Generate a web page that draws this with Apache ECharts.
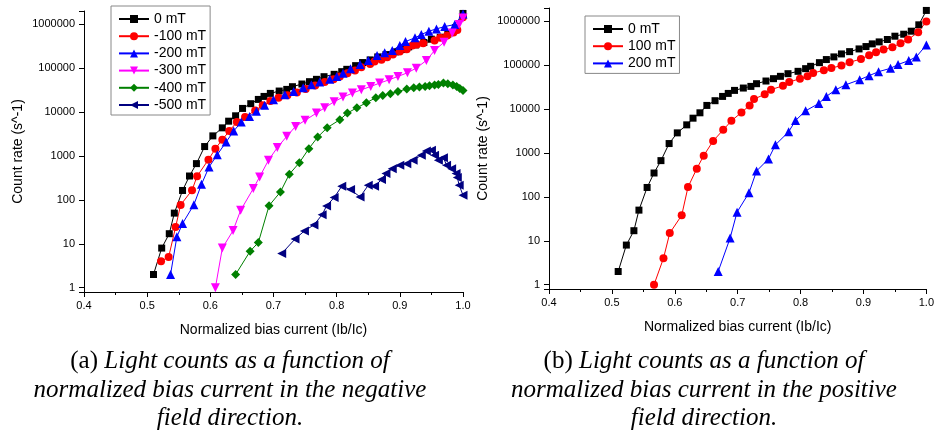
<!DOCTYPE html>
<html>
<head>
<meta charset="utf-8">
<script src="https://cdn.jsdelivr.net/npm/echarts@6/dist/echarts.min.js"></script>
<style>
html,body{margin:0;padding:0;background:#fff;}
#c{width:937px;height:440px;}
</style>
</head>
<body>
<div id="c"></div>
<script>
// ---- data ----
const xTickLabels = ['0.4','0.5','0.6','0.7','0.8','0.9','1.0'];
const yTickLabels = ['1','10','100','1000','10000','100000','1000000'];

const bias_0mT = [0.510,0.523,0.535,0.543,0.556,0.567,0.578,0.591,0.604,0.619,0.629,0.640,0.651,0.664,0.676,0.685,0.695,0.709,0.721,0.730,0.745,0.757,0.768,0.780,0.796,0.808,0.816,0.830,0.841,0.853,0.865,0.878,0.893,0.904,0.914,0.925,0.938,0.950,0.964,0.976,0.988,1.000];
const rate_0mT = [2,8,17,50,164,350,670,1640,2870,4370,6200,8220,12100,15500,19400,22700,26600,30100,32800,37800,43500,49200,55600,63900,72300,83200,94000,114000,134000,154000,180000,203000,234000,265000,305000,338000,383000,456000,506000,593000,828000,1760000];

const bias_m100 = [0.522,0.534,0.545,0.553,0.571,0.579,0.597,0.608,0.619,0.630,0.642,0.655,0.671,0.683,0.695,0.708,0.722,0.737,0.751,0.766,0.781,0.795,0.805,0.817,0.829,0.839,0.853,0.860,0.871,0.880,0.889,0.900,0.911,0.920,0.927,0.937,0.955,0.964,0.975,0.985,0.991,1.000];
const rate_m100 = [4,5,24,77,166,345,826,1470,2350,3700,5930,7700,10900,14200,17800,21200,24300,28000,33300,40400,48100,56200,64700,77000,88500,105000,125000,142000,155000,178000,205000,239000,270000,327000,345000,370000,425000,489000,552000,647000,743000,1440000];

const bias_m200 = [0.537,0.547,0.556,0.574,0.586,0.598,0.611,0.625,0.637,0.649,0.662,0.673,0.686,0.700,0.718,0.732,0.747,0.760,0.773,0.789,0.800,0.810,0.822,0.837,0.850,0.864,0.876,0.888,0.900,0.909,0.924,0.934,0.946,0.958,0.971,0.987,1.000];
const rate_m200 = [2,14.4,29,78,227,562,1070,2080,3700,5930,7970,10500,14200,19100,24800,29500,35700,41800,48100,56200,64700,77000,96600,121000,149000,194000,223000,252000,327000,404000,489000,583000,693000,783000,885000,983000,1720000];

const bias_m300 = [0.608,0.619,0.636,0.648,0.668,0.678,0.692,0.706,0.721,0.735,0.750,0.768,0.781,0.796,0.810,0.825,0.839,0.854,0.868,0.883,0.897,0.912,0.926,0.942,0.955,0.970,0.983,0.994,1.000];
const rate_m300 = [1,8,20,58,181,333,797,1550,2800,4720,6470,9490,12500,17200,21900,27000,32200,38300,45600,54300,64700,78300,100000,150000,252000,390000,635000,983000,1390000];

const bias_m400 = [0.640,0.663,0.676,0.693,0.711,0.725,0.741,0.756,0.770,0.785,0.805,0.817,0.832,0.847,0.862,0.873,0.885,0.897,0.911,0.922,0.931,0.940,0.947,0.955,0.961,0.969,0.976,0.984,0.990,0.995,1.000];
const rate_m400 = [2,6.8,10.7,74,152,383,705,1470,2700,4400,6700,9490,12500,16300,21200,23900,26100,29500,33300,35700,37000,38300,39700,41100,42500,45600,44000,41100,38300,34500,31100];

const bias_m500 = [0.713,0.734,0.749,0.764,0.777,0.784,0.796,0.808,0.822,0.837,0.850,0.860,0.871,0.878,0.888,0.900,0.911,0.921,0.934,0.942,0.950,0.955,0.961,0.969,0.974,0.982,0.989,0.991,0.994,1.000];
const rate_m500 = [6,12.8,19.7,27,46,73,113,204,172,117,215,204,290,397,515,614,669,797,1040,1300,1345,1040,797,916,614,515,397,322,215,128];

const bias_p100 = [0.567,0.582,0.592,0.611,0.621,0.635,0.646,0.661,0.677,0.690,0.706,0.719,0.726,0.743,0.753,0.772,0.782,0.799,0.811,0.820,0.837,0.849,0.865,0.878,0.896,0.909,0.920,0.932,0.946,0.959,0.971,0.987,1.000];
const rate_p100 = [1,4,15,38,167,440,870,1880,3360,5390,8360,12100,16900,21600,27600,34000,41200,49200,55600,66200,76200,86100,97500,116000,138000,168000,196000,226000,256000,315000,383000,562000,986000];

const bias_p200 = [0.669,0.688,0.699,0.718,0.730,0.749,0.760,0.781,0.792,0.808,0.829,0.841,0.856,0.872,0.894,0.909,0.924,0.943,0.955,0.972,0.984,1.000];
const rate_p200 = [2,11.6,45,124,388,731,1530,3030,5490,9120,13400,19400,27600,35800,46600,57600,71000,84700,103000,127000,154000,289000];

const namesLeft = ['0 mT','-100 mT','-200 mT','-300 mT','-400 mT','-500 mT'];
const namesRight = ['0 mT','100 mT','200 mT'];
const captionA = ['Light counts as a function of','normalized bias current in the negative','field direction.'];
const captionB = ['Light counts as a function of','normalized bias current in the positive','field direction.'];

// ---- chart ----
const FONT = 'Liberation Sans';
const pair = (xs, ys) => xs.map((x, i) => [x, ys[i]]);

function mkX(idx) {
  return {
    type: 'value', gridIndex: idx, min: 0.4, max: 1.0, interval: 0.1,
    name: 'Normalized bias current (Ib/Ic)', nameLocation: 'middle', nameGap: 31,
    nameTextStyle: {fontFamily: FONT, fontSize: 14, color: '#000'},
    axisLine: {onZero: false, lineStyle: {color: '#000', width: 1}},
    axisTick: {inside: false, length: 5, lineStyle: {color: '#000'}},
    minorTick: {show: true, splitNumber: 2, length: 3, lineStyle: {color: '#000'}},
    splitLine: {show: false},
    axisLabel: {fontFamily: FONT, fontSize: 11, color: '#000', margin: 8,
      formatter: v => xTickLabels[Math.round((v - 0.4) * 10)] || ''}
  };
}
function mkY(idx) {
  return {
    type: 'log', logBase: 10, gridIndex: idx, min: 0.8, max: 2e6,
    name: 'Count rate (s^-1)', nameLocation: 'middle', nameGap: 59, nameRotate: 90,
    nameTextStyle: {fontFamily: FONT, fontSize: 14, color: '#000'},
    axisLine: {onZero: false, lineStyle: {color: '#000', width: 1}},
    axisTick: {inside: false, length: 5, lineStyle: {color: '#000'}},
    minorTick: {show: false},
    splitLine: {show: false},
    axisLabel: {fontFamily: FONT, fontSize: 11, color: '#000', margin: 9,
      formatter: v => {
        const l = Math.log10(v);
        const r = Math.round(l);
        if (Math.abs(l - r) > 1e-6 || r < 0 || r > 6) return '';
        return yTickLabels[r];
      }}
  };
}
function mkS(name, xi, xs, ys, color, symbol, size, rot) {
  return {
    type: 'line', name, xAxisIndex: xi, yAxisIndex: xi, data: pair(xs, ys),
    symbol, symbolSize: size, symbolRotate: rot || 0,
    showAllSymbol: true, animation: false,
    lineStyle: {color, width: 1}, itemStyle: {color, borderWidth: 0}
  };
}
function mkLegend(names, left, top) {
  return {
    data: names, orient: 'vertical', left, top,
    backgroundColor: '#fff', borderColor: '#888', borderWidth: 1,
    padding: [6, 4, 3, 7], itemWidth: 30, itemHeight: 10, itemGap: 3.2,
    textStyle: {fontFamily: FONT, fontSize: 14, color: '#000'},
    selectedMode: false
  };
}
function caption(cx, tag, lines) {
  const it = {fontFamily: 'Liberation Serif', fontStyle: 'italic', fontSize: 25, fill: '#000'};
  const up = {fontFamily: 'Liberation Serif', fontStyle: 'normal', fontSize: 25, fill: '#000'};
  const ys = [361, 390, 418];
  return lines.map((t, i) => ({
    type: 'text', x: cx, y: ys[i], silent: true,
    style: {
      text: i === 0 ? '{u|' + tag + '} {i|' + t + '}' : '{i|' + t + '}',
      rich: {u: up, i: it}, textAlign: 'center', textVerticalAlign: 'middle',
      font: 'italic 25px "Liberation Serif"', fill: '#000'
    }
  }));
}

const chart = echarts.init(document.getElementById('c'), null, {renderer: 'canvas'});
chart.setOption({
  backgroundColor: '#fff',
  animation: false,
  grid: [
    {left: 84, top: 11, width: 379, height: 281, containLabel: false},
    {left: 549, top: 8, width: 379, height: 281, containLabel: false}
  ],
  xAxis: [mkX(0), mkX(1)],
  yAxis: [mkY(0), mkY(1)],
  legend: [mkLegend(namesLeft, 111, 6), mkLegend(namesRight, 585, 16)],
  series: [
    mkS('0 mT', 0, bias_0mT, rate_0mT, '#000000', 'rect', 7),
    mkS('-100 mT', 0, bias_m100, rate_m100, '#ff0000', 'circle', 8),
    mkS('-200 mT', 0, bias_m200, rate_m200, '#0000ff', 'triangle', 9),
    mkS('-300 mT', 0, bias_m300, rate_m300, '#ff00ff', 'triangle', 9, 180),
    mkS('-400 mT', 0, bias_m400, rate_m400, '#008000', 'diamond', 9),
    mkS('-500 mT', 0, bias_m500, rate_m500, '#000080', 'triangle', 9, 90),
    mkS('0 mT', 1, bias_0mT, rate_0mT, '#000000', 'rect', 7),
    mkS('100 mT', 1, bias_p100, rate_p100, '#ff0000', 'circle', 8),
    mkS('200 mT', 1, bias_p200, rate_p200, '#0000ff', 'triangle', 9)
  ],
  graphic: caption(230, '(a)', captionA).concat(caption(704, '(b)', captionB))
});
</script>
</body>
</html>
